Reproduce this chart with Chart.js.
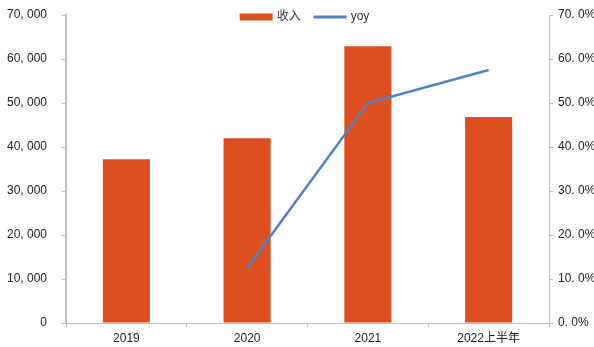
<!DOCTYPE html>
<html>
<head>
<meta charset="utf-8">
<script src="https://cdn.jsdelivr.net/npm/chart.js@4/dist/chart.umd.min.js"></script>
<style>
    html, body { margin: 0; padding: 0; background: #fff; }
    #wrap { width: 594px; height: 347px; }
</style>
</head>
<body>
<div id="wrap"><canvas id="c" width="594" height="347"></canvas></div>
<script>
// Data
const categories = ['2019', '2020', '2021', '2022上半年'];
const revenue = [37200, 42000, 62900, 46800];
const yoy = [null, 12.5, 50.0, 57.5];
const revTicks = [0, 10000, 20000, 30000, 40000, 50000, 60000, 70000];
const yoyTicks = [0, 10, 20, 30, 40, 50, 60, 70];

const BAR = '#dd4f1f';
const LINE = '#4f81c4';
const AXIS = '#bfbfbf';
const FONT = "'Liberation Sans', 'Noto Sans CJK SC', sans-serif";

function fmtRev(v) {
    return String(v).replace(/\B(?=(\d{3})+(?!\d))/g, ', ');
}

// vertical axes: fixed width, no extra top/bottom padding
function fixAxis(width) {
    return s => {
        s.width = width;
        s.paddingTop = 0;
        s.paddingBottom = 0;
    };
}

// legend drawn inside the top of the plot area
const innerLegend = {
    id: 'innerLegend',
    afterDraw(chart) {
        const ctx = chart.ctx;
        const area = chart.chartArea;
        const sw = 33, gap = 4, itemGap = 13;
        ctx.save();
        ctx.font = '12px ' + FONT;
        ctx.textBaseline = 'middle';
        const items = chart.data.datasets.map(ds => ({
            text: ds.label,
            type: ds.type,
            color: ds.type === 'bar' ? ds.backgroundColor : ds.borderColor,
            w: sw + gap + ctx.measureText(ds.label).width
        }));
        const total = items.reduce((a, it) => a + it.w, 0) + itemGap * (items.length - 1);
        let x = (area.left + area.right) / 2 - total / 2 - 3;
        const y = area.top + 2;
        items.forEach(it => {
            ctx.fillStyle = it.color;
            if (it.type === 'bar') ctx.fillRect(x, y - 3.5, sw, 7);
            else ctx.fillRect(x, y - 1.5, sw, 3);
            ctx.fillStyle = '#333';
            ctx.fillText(it.text, x + sw + gap, y);
            x += it.w + itemGap;
        });
        ctx.restore();
    }
};

new Chart(document.getElementById('c').getContext('2d'), {
    data: {
        labels: categories,
        datasets: [
            {
                type: 'bar',
                label: '收入',
                data: revenue,
                backgroundColor: BAR,
                yAxisID: 'y',
                categoryPercentage: 1,
                barPercentage: 0.39,
                order: 2
            },
            {
                type: 'line',
                label: 'yoy',
                data: yoy,
                borderColor: LINE,
                backgroundColor: LINE,
                borderWidth: 2.5,
                pointRadius: 0,
                tension: 0,
                yAxisID: 'y1',
                order: 1
            }
        ]
    },
    options: {
        responsive: false,
        animation: false,
        layout: { padding: { top: 15, left: 0, right: 0, bottom: 0 } },
        plugins: {
            tooltip: { enabled: false },
            legend: { display: false }
        },
        scales: {
            x: {
                grid: { offset: true, drawOnChartArea: false, drawTicks: true, tickLength: 4, color: AXIS },
                border: { color: AXIS, width: 1 },
                ticks: { color: '#222', font: { family: FONT, size: 12 }, padding: 4, maxRotation: 0 },
                afterFit: s => { s.height = 24; }
            },
            y: {
                position: 'left',
                min: 0, max: 70000,
                afterBuildTicks: s => { s.ticks = revTicks.map(v => ({ value: v })); },
                grid: { drawOnChartArea: false, drawTicks: true, tickLength: 4, color: AXIS },
                border: { color: AXIS, width: 2 },
                ticks: { color: '#222', font: { family: FONT, size: 12 }, padding: 15, callback: v => fmtRev(v) },
                afterFit: fixAxis(66)
            },
            y1: {
                position: 'right',
                min: 0, max: 70,
                afterBuildTicks: s => { s.ticks = yoyTicks.map(v => ({ value: v })); },
                grid: { drawOnChartArea: false, drawTicks: true, tickLength: 4, color: AXIS },
                border: { color: AXIS, width: 1 },
                ticks: { color: '#222', font: { family: FONT, size: 12 }, padding: 5, callback: v => v.toFixed(1).replace('.', '. ') + '%' },
                afterFit: fixAxis(45)
            }
        }
    },
    plugins: [innerLegend]
});
</script>
</body>
</html>
